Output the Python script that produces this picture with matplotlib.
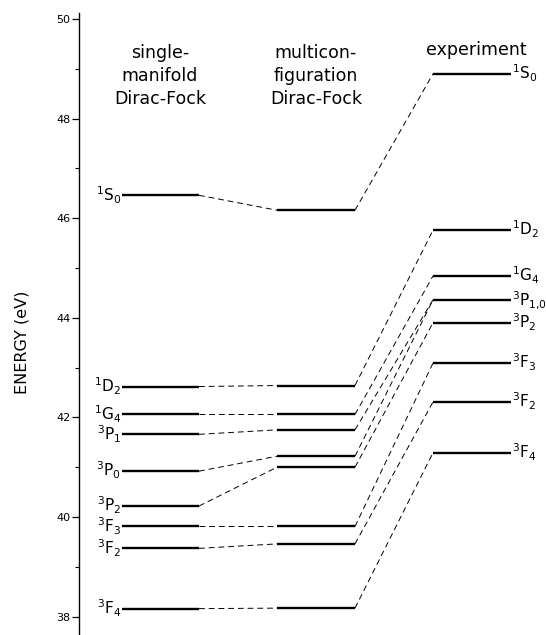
import matplotlib
matplotlib.use("Agg")
import matplotlib.pyplot as plt
from matplotlib.ticker import MultipleLocator

# term labels, single-manifold / multiconfiguration columns share them
terms = [r"$^1\mathrm{S}_0$", r"$^1\mathrm{D}_2$", r"$^1\mathrm{G}_4$", r"$^3\mathrm{P}_1$",
         r"$^3\mathrm{P}_0$", r"$^3\mathrm{P}_2$", r"$^3\mathrm{F}_3$", r"$^3\mathrm{F}_2$",
         r"$^3\mathrm{F}_4$"]
smdf_energy = [46.46, 42.62, 42.06, 41.66, 40.92, 40.22, 39.81, 39.37, 38.16]
mcdf_energy = [46.16, 42.64, 42.06, 41.75, 41.22, 41.00, 39.81, 39.46, 38.17]

exp_terms = [r"$^1\mathrm{S}_0$", r"$^1\mathrm{D}_2$", r"$^1\mathrm{G}_4$", r"$^3\mathrm{P}_{1{,}0}$",
             r"$^3\mathrm{P}_2$", r"$^3\mathrm{F}_3$", r"$^3\mathrm{F}_2$", r"$^3\mathrm{F}_4$"]
exp_energy = [48.90, 45.76, 44.84, 44.36, 43.90, 43.09, 42.31, 41.29]
# which experimental level each calculated term goes to
exp_index = [0, 1, 2, 3, 3, 4, 5, 6, 7]

titles = ["single-\nmanifold\nDirac-Fock", "multicon-\nfiguration\nDirac-Fock", "experiment"]

# column extents (x in figure pixels)
cols = [(122, 199), (277, 355), (433, 511)]

fig = plt.figure(figsize=(5.46, 6.35), dpi=100)
ax = fig.add_axes([0, 0, 1, 1])
ax.set_xlim(0, 546)
ax.set_ylim(50 - 616 / 49.8, 50 + 19 / 49.8)

level_kw = dict(color="black", lw=1.7, solid_capstyle="butt")
dash_kw = dict(color="black", lw=0.7, linestyle=(0, (6, 4)))
lab_size = 11

for i in range(len(terms)):
    e1 = smdf_energy[i]
    e2 = mcdf_energy[i]
    e3 = exp_energy[exp_index[i]]
    ax.plot(cols[0], [e1, e1], **level_kw)
    ax.plot(cols[1], [e2, e2], **level_kw)
    ax.plot([cols[0][1], cols[1][0]], [e1, e2], **dash_kw)
    ax.plot([cols[1][1], cols[2][0]], [e2, e3], **dash_kw)
    ax.annotate(terms[i], (cols[0][0] - 1, e1), xytext=(0, -4.0), textcoords="offset points",
                ha="right", va="baseline", fontsize=lab_size)

for j in range(len(exp_terms)):
    e = exp_energy[j]
    ax.plot(cols[2], [e, e], **level_kw)
    ax.annotate(exp_terms[j], (cols[2][1] + 1, e), xytext=(0, -4.0), textcoords="offset points",
                ha="left", va="baseline", fontsize=lab_size)

ax.text(160, 48.855, titles[0], ha="center", va="center", fontsize=12.5, linespacing=1.35)
ax.text(316, 48.855, titles[1], ha="center", va="center", fontsize=12.5, linespacing=1.35)
ax.text(476, 49.38, titles[2], ha="center", va="center", fontsize=12.5)

# axis: only the left spine, placed at x = 79 px
for s in ["top", "right", "bottom"]:
    ax.spines[s].set_visible(False)
ax.spines["left"].set_position(("data", 79))
ax.spines["left"].set_bounds(37.6, 50.12)
ax.spines["left"].set_linewidth(1.0)
ax.set_xticks([])
ax.yaxis.set_major_locator(MultipleLocator(2))
ax.yaxis.set_minor_locator(MultipleLocator(1))
ax.set_yticks([38, 40, 42, 44, 46, 48, 50])
ax.tick_params(axis="y", which="major", length=5, width=0.9, labelsize=8, pad=1)
ax.tick_params(axis="y", which="minor", length=3, width=0.8)

ax.text(22, 50 - (342 - 19) / 49.8, "ENERGY (eV)", rotation=90, ha="center", va="center",
        fontsize=11.5)

fig.savefig("out.png", dpi=100)
